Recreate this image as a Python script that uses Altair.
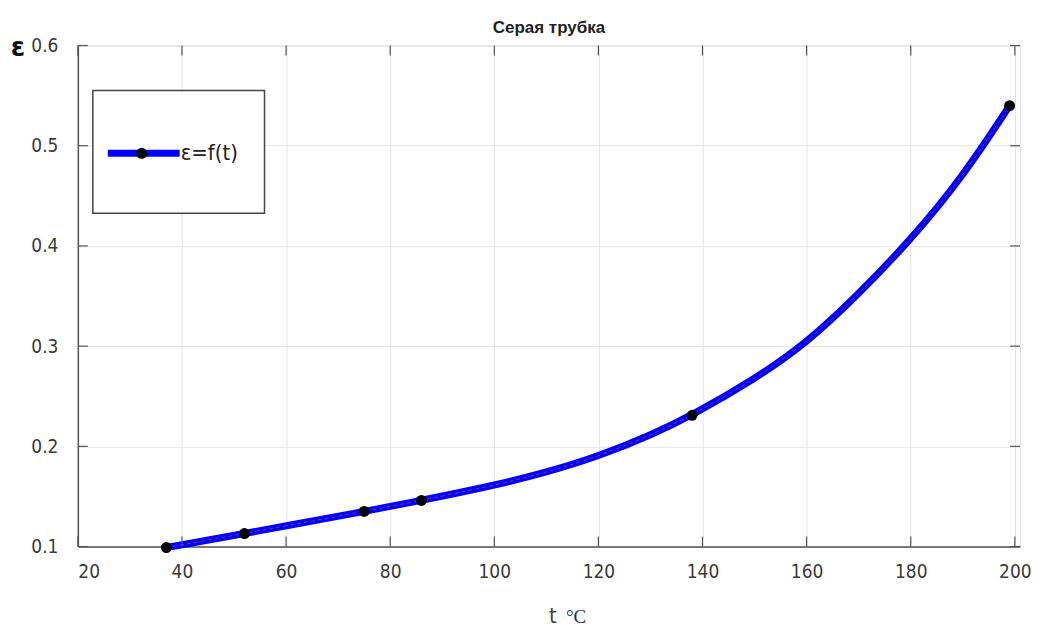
import altair as alt
import pandas as pd

# marker points (measured)
t_pts = [37, 52, 75, 86, 138, 199]
eps_pts = [0.099, 0.113, 0.135, 0.146, 0.231, 0.540]

# smooth curve
t_curve = [37, 52, 75, 86, 100, 110, 120, 130, 138, 150, 160, 170, 180, 190, 199]
eps_curve = [0.099, 0.113, 0.135, 0.146, 0.161, 0.174, 0.190, 0.211, 0.231, 0.267, 0.303, 0.352, 0.406, 0.469, 0.540]

x_ticks = [20, 40, 60, 80, 100, 120, 140, 160, 180, 200]
y_ticks = [0.1, 0.2, 0.3, 0.4, 0.5, 0.6]

W, H = 944, 502
FONT = "Liberation Sans Narrow, DejaVu Sans Condensed, Liberation Sans, Arial"

pts = pd.DataFrame({"t": t_pts, "eps": eps_pts})
curve = pd.DataFrame({"t": t_curve, "eps": eps_curve})
xt = pd.DataFrame({"t": x_ticks})
yt = pd.DataFrame({"eps": y_ticks})

xs = alt.Scale(domain=[20, 201], nice=False, zero=False)
ys = alt.Scale(domain=[0.1, 0.6], nice=False, zero=False)

xaxis = alt.Axis(values=x_ticks, title=None, grid=True, gridColor="#e3e3e3", gridWidth=1,
                 ticks=False, tickSize=0, labelPadding=16, labelFontSize=19, labelFont=FONT,
                 labelColor="#3a3a3a", domainColor="#555", domainWidth=1.5, format="d")
yaxis = alt.Axis(values=y_ticks, title=None, grid=True, gridColor="#e3e3e3", gridWidth=1,
                 ticks=False, tickSize=0, labelPadding=20, labelFontSize=19, labelFont=FONT,
                 labelColor="#3a3a3a", domainColor="#555", domainWidth=1.5, format=".1f")

base_line = alt.Chart(curve).mark_line(color="#0000ff", strokeWidth=7, interpolate="basis").encode(
    x=alt.X("t:Q", scale=xs, axis=xaxis),
    y=alt.Y("eps:Q", scale=ys, axis=yaxis),
)
red_line = alt.Chart(curve).mark_line(color="#e0303a", strokeWidth=1, strokeDash=[4, 3],
                                      interpolate="basis", opacity=0.7).encode(
    x=alt.X("t:Q", scale=xs), y=alt.Y("eps:Q", scale=ys))
markers = alt.Chart(pts).mark_circle(color="black", size=120, opacity=1).encode(
    x=alt.X("t:Q", scale=xs), y=alt.Y("eps:Q", scale=ys))

tick_col = "#555"
bt = alt.Chart(xt).mark_rule(color=tick_col, strokeWidth=1.2).encode(
    x=alt.X("t:Q", scale=xs), y=alt.value(H), y2=alt.value(H - 10))
tt = alt.Chart(xt).mark_rule(color=tick_col, strokeWidth=1.2).encode(
    x=alt.X("t:Q", scale=xs), y=alt.value(0), y2=alt.value(10))
lt = alt.Chart(yt).mark_rule(color=tick_col, strokeWidth=1.2).encode(
    y=alt.Y("eps:Q", scale=ys), x=alt.value(0), x2=alt.value(10))
rt = alt.Chart(yt).mark_rule(color=tick_col, strokeWidth=1.2).encode(
    y=alt.Y("eps:Q", scale=ys), x=alt.value(W), x2=alt.value(W - 10))

# legend
leg_box = alt.Chart(pd.DataFrame({"a": [0]})).mark_rect(fill="white", stroke="#444", strokeWidth=1.5).encode(
    x=alt.value(15), x2=alt.value(187), y=alt.value(45), y2=alt.value(168))
leg_line = alt.Chart(pd.DataFrame({"a": [0]})).mark_rule(color="#0000ff", strokeWidth=7).encode(
    x=alt.value(30), x2=alt.value(102), y=alt.value(108))
leg_dot = alt.Chart(pd.DataFrame({"a": [0]})).mark_circle(color="black", size=120, opacity=1).encode(
    x=alt.value(64), y=alt.value(108))
leg_text = alt.Chart(pd.DataFrame({"a": [0]})).mark_text(
    text="ε=f(t)", align="left", baseline="middle", fontSize=22, font=FONT, color="#222").encode(
    x=alt.value(103), y=alt.value(108))

title = alt.Chart(pd.DataFrame({"a": [0]})).mark_text(
    text="Серая трубка", align="center", baseline="middle", fontSize=17, fontWeight="bold",
    font="Liberation Sans, Arial", color="#222").encode(x=alt.value(W / 2), y=alt.value(-18))
ylab = alt.Chart(pd.DataFrame({"a": [0]})).mark_text(
    text="ε", align="center", baseline="middle", fontSize=26, fontWeight="bold",
    font="DejaVu Sans", color="#111").encode(x=alt.value(-60), y=alt.value(2))
xlab_t = alt.Chart(pd.DataFrame({"a": [0]})).mark_text(
    text="t", align="center", baseline="middle", fontSize=22, font=FONT, color="#444").encode(
    x=alt.value(476), y=alt.value(H + 70))
xlab_c = alt.Chart(pd.DataFrame({"a": [0]})).mark_text(
    text="°C", align="left", baseline="middle", fontSize=19, font="Liberation Serif, DejaVu Serif",
    color="#1b2a66").encode(x=alt.value(489), y=alt.value(H + 71))

chart = alt.layer(
    base_line, red_line, markers, bt, tt, lt, rt,
    leg_box, leg_line, leg_dot, leg_text, title, ylab, xlab_t, xlab_c
).properties(
    width=W, height=H,
    autosize=alt.AutoSizeParams(type="none"),
    padding={"left": 70, "top": 37, "right": 12, "bottom": 86},
).configure_view(stroke="#555", strokeWidth=1.5).configure(background="white")

chart.save("out.html", embed_options={"renderer": "svg", "actions": False})
